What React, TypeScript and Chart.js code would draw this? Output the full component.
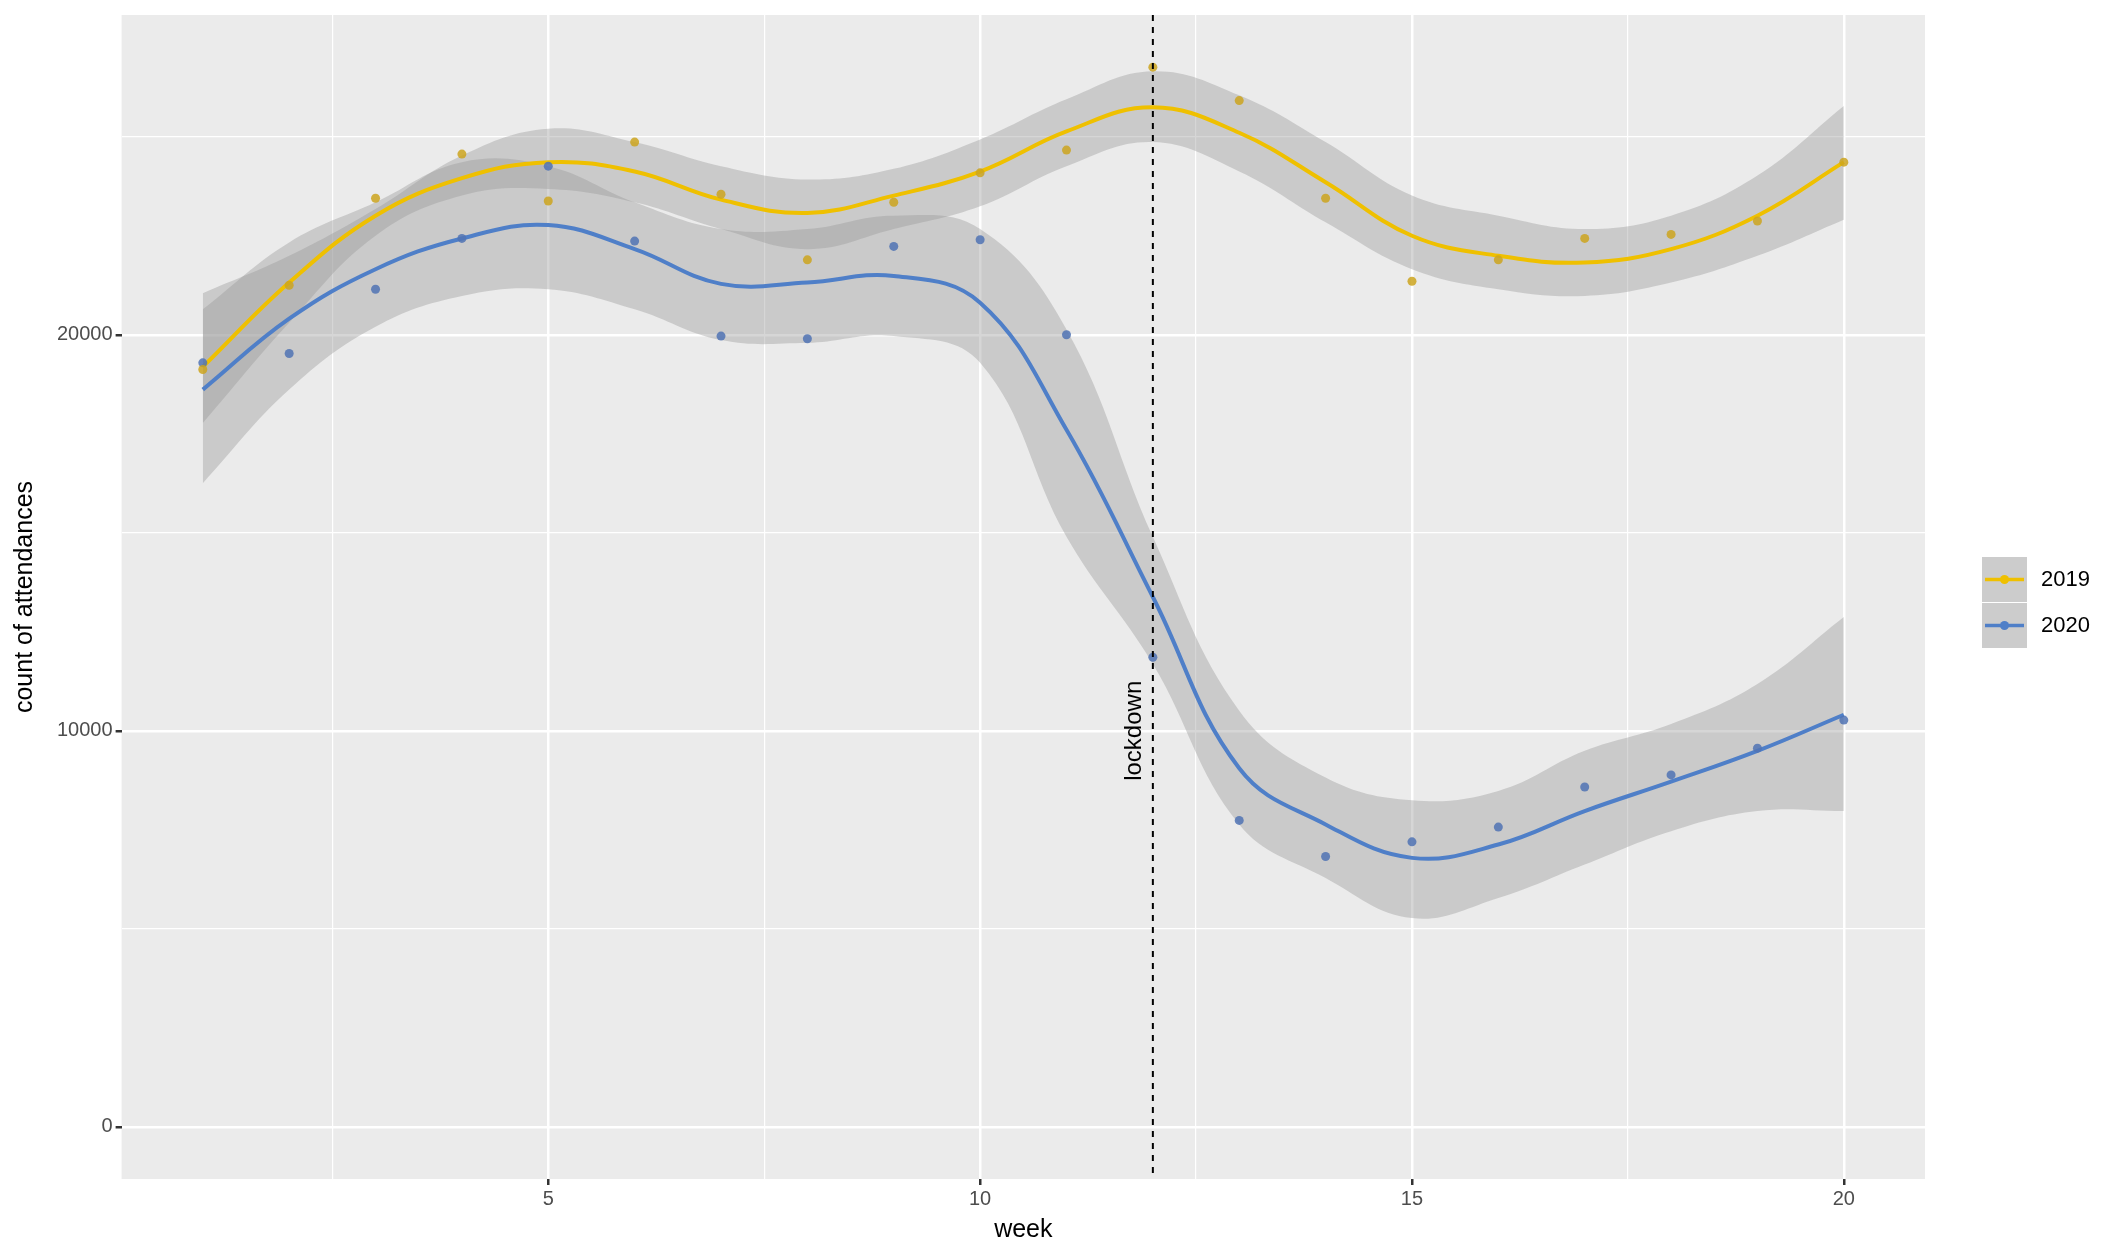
import React, { useEffect, useRef } from "react";
import { Chart, registerables } from "chart.js";
Chart.register(...registerables);

const weeks = [1,2,3,4,5,6,7,8,9,10,11,12,13,14,15,16,17,18,19,20];
const pts2019 = [19122,21250,23446,24561,23378,24865,23547,21892,23345,24088,24662,26757,25912,23446,21351,21892,22432,22534,22871,24358];
const pts2020 = [19290,19527,21149,22432,24257,22365,19966,19899,22230,22399,20000,11858,7736,6824,7196,7568,8581,8885,9561,10270];
const fit2019 = [19189,21318,23007,23953,24358,24122,23412,23074,23514,24122,25135,25743,25101,23851,22500,21993,21824,22162,23007,24358];
const up2019 = [21047,21993,23176,24527,25203,24865,24257,23919,24189,24932,25946,26655,26047,24865,23514,23007,22669,23007,24020,25777];
const lo2019 = [17770,20304,22500,23514,23682,23345,22669,22162,22669,23243,24257,24865,24122,22838,21655,21149,20980,21318,21993,22905];
const fit2020 = [18615,20405,21655,22432,22770,22162,21284,21318,21486,20811,17601,13378,9054,7635,6791,7128,7973,8716,9493,10405];
const up2020 = [20642,22331,23345,24358,24257,23345,22669,22669,23007,22669,20135,14899,10507,8818,8243,8480,9493,10169,11182,12872];
const lo2020 = [16250,18615,20203,20980,21149,20642,19865,19797,19966,19291,14899,11689,7635,6284,5270,5777,6622,7466,7973,7973];
const lockdownWeek = 12;
const seriesNames = ["2019", "2020"];
const lineColors = ["#EFC000", "#4F7FC8"];
const pointColors = ["rgba(205,165,30,0.85)", "rgba(80,115,180,0.85)"];

const xy = (arr: number[]) => arr.map((v, i) => ({ x: weeks[i], y: v }));
const FONT = "'Liberation Sans', Arial, sans-serif";

export default function App() {
  const ref = useRef<HTMLCanvasElement>(null);
  useEffect(() => {
    const band = "rgba(153,153,153,0.4)";
    const overlay = {
      id: "overlay",
      afterDatasetsDraw(chart: any) {
        const { ctx, chartArea, scales } = chart;
        const x = scales.x.getPixelForValue(lockdownWeek);
        ctx.save();
        ctx.strokeStyle = "#000";
        ctx.lineWidth = 2;
        ctx.setLineDash([6, 6]);
        ctx.beginPath();
        ctx.moveTo(x, chartArea.top);
        ctx.lineTo(x, chartArea.bottom);
        ctx.stroke();
        ctx.setLineDash([]);
        ctx.translate(x - 6, scales.y.getPixelForValue(10000));
        ctx.rotate(-Math.PI / 2);
        ctx.fillStyle = "#000";
        ctx.font = `24px ${FONT}`;
        ctx.textAlign = "center";
        ctx.textBaseline = "bottom";
        ctx.fillText("lockdown", 0, 0);
        ctx.restore();
        ctx.save();
        const lx = 1982, ly = 557, s = 45;
        for (let i = 0; i < 2; i++) {
          const y0 = ly + i * (s + 1);
          ctx.fillStyle = "#CCCCCC";
          ctx.fillRect(lx, y0, s, s);
          ctx.strokeStyle = lineColors[i];
          ctx.lineWidth = 3.5;
          ctx.beginPath();
          ctx.moveTo(lx + 3, y0 + s / 2);
          ctx.lineTo(lx + s - 3, y0 + s / 2);
          ctx.stroke();
          ctx.fillStyle = lineColors[i];
          ctx.beginPath();
          ctx.arc(lx + s / 2, y0 + s / 2, 4.5, 0, Math.PI * 2);
          ctx.fill();
          ctx.fillStyle = "#000";
          ctx.font = `22px ${FONT}`;
          ctx.textBaseline = "middle";
          ctx.fillText(seriesNames[i], lx + s + 14, y0 + s / 2);
        }
        ctx.restore();
      },
      beforeDraw(chart: any) {
        const { ctx, chartArea } = chart;
        ctx.save();
        ctx.fillStyle = "#EBEBEB";
        ctx.fillRect(chartArea.left, chartArea.top, chartArea.width, chartArea.height);
        ctx.restore();
      },
    };
    const gridColor = "#FFFFFF";
    const isMajorX = (c: any) => c.tick && c.tick.value % 5 === 0;
    const isMajorY = (c: any) => c.tick && c.tick.value % 10000 === 0;
    const chart = new Chart(ref.current!, {
      type: "line",
      data: {
        datasets: [
          { data: xy(up2019), borderWidth: 0, pointRadius: 0, fill: false, tension: 0.4, backgroundColor: band, order: 5 },
          { data: xy(lo2019), borderWidth: 0, pointRadius: 0, fill: "-1", tension: 0.4, backgroundColor: band, order: 5 },
          { data: xy(up2020), borderWidth: 0, pointRadius: 0, fill: false, tension: 0.4, backgroundColor: band, order: 5 },
          { data: xy(lo2020), borderWidth: 0, pointRadius: 0, fill: "-1", tension: 0.4, backgroundColor: band, order: 5 },
          { data: xy(fit2019), borderColor: lineColors[0], borderWidth: 4, pointRadius: 0, tension: 0.4, fill: false, order: 2 },
          { data: xy(fit2020), borderColor: lineColors[1], borderWidth: 4, pointRadius: 0, tension: 0.4, fill: false, order: 2 },
          { data: xy(pts2019), showLine: false, pointRadius: 4.5, pointBackgroundColor: pointColors[0], pointBorderWidth: 0, order: 1 },
          { data: xy(pts2020), showLine: false, pointRadius: 4.5, pointBackgroundColor: pointColors[1], pointBorderWidth: 0, order: 1 },
        ] as any,
      },
      options: {
        animation: false,
        responsive: false,
        maintainAspectRatio: false,
        layout: { padding: { top: 0, right: 186, bottom: 6, left: 10 } },
        plugins: { legend: { display: false }, tooltip: { enabled: false } },
        scales: {
          x: {
            type: "linear", min: 0.06, max: 20.94,
            afterBuildTicks: (s: any) => { s.ticks = [2.5,5,7.5,10,12.5,15,17.5,20].map((v) => ({ value: v })); },
            ticks: { callback: (v: any) => (v % 5 === 0 ? String(v) : ""), font: { size: 20, family: FONT }, color: "#4D4D4D", maxRotation: 0, autoSkip: false, padding: 2 },
            grid: { color: gridColor, lineWidth: (c: any) => (isMajorX(c) ? 2.5 : 1.2), tickLength: 6, tickColor: (c: any) => (isMajorX(c) ? "#333" : "rgba(0,0,0,0)") },
            border: { display: false },
            title: { display: true, text: "week", font: { size: 25, family: FONT }, color: "#000", padding: { top: 2, bottom: 0 } },
          },
          y: {
            type: "linear", min: -1318, max: 28074,
            afterBuildTicks: (s: any) => { s.ticks = [0,5000,10000,15000,20000,25000].map((v) => ({ value: v })); },
            ticks: { callback: (v: any) => (v % 10000 === 0 ? String(v) : ""), font: { size: 20, family: FONT }, color: "#4D4D4D", autoSkip: false, padding: 3 },
            grid: { color: gridColor, lineWidth: (c: any) => (isMajorY(c) ? 2.5 : 1.2), tickLength: 6, tickColor: (c: any) => (isMajorY(c) ? "#333" : "rgba(0,0,0,0)") },
            border: { display: false },
            title: { display: true, text: "count of attendances", font: { size: 25, family: FONT }, color: "#000", padding: { top: 0, bottom: 14 } },
          },
        },
      } as any,
      plugins: [overlay],
    });
    return () => chart.destroy();
  }, []);
  return (
    <div style={{ position: "absolute", left: 0, top: 0, width: 2111, height: 1251, background: "#fff" }}>
      <canvas ref={ref} width={2111} height={1251} style={{ width: 2111, height: 1251 }} />
    </div>
  );
}
